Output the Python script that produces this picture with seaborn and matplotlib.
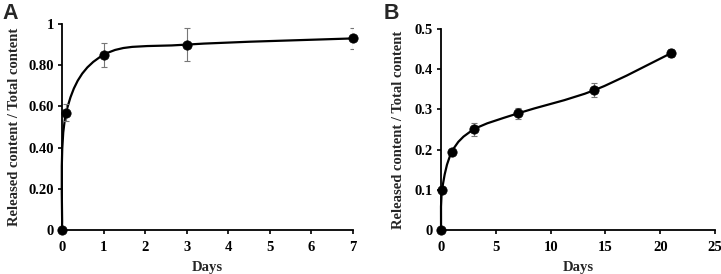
import numpy as np
import pandas as pd
import matplotlib
matplotlib.use("Agg")
import matplotlib.pyplot as plt
import seaborn as sns
from matplotlib.path import Path
from matplotlib.patches import PathPatch

# ---- data ----
days_a = [0, 0.1, 1, 3, 7]
release_a = [0, 0.57, 0.85, 0.90, 0.93]
err_a = [0, 0.04, 0.06, 0.08, 0.05]

days_b = [0, 0.1, 1, 3, 7, 14, 21]
release_b = [0, 0.10, 0.195, 0.25, 0.29, 0.348, 0.44]
err_b = [0, 0.008, 0.006, 0.015, 0.013, 0.017, 0.009]

yticks_a = [0, 0.2, 0.4, 0.6, 0.8, 1.0]
yticklabels_a = ["0", "0.20", "0.40", "0.60", "0.80", "1"]
xticks_a = [0, 1, 2, 3, 4, 5, 6, 7]
yticks_b = [0, 0.1, 0.2, 0.3, 0.4, 0.5]
yticklabels_b = ["0", "0.1", "0.2", "0.3", "0.4", "0.5"]
xticks_b = [0, 5, 10, 15, 20, 25]

sns.set_theme(style="ticks")
plt.rcParams['font.family'] = ['Liberation Serif', 'DejaVu Serif']
plt.rcParams['font.weight'] = 'bold'

fig = plt.figure(figsize=(7.21, 2.74), dpi=100)
ax_a = fig.add_axes([0.086, 0.1606, 0.4036, 0.7518])
ax_b = fig.add_axes([0.6117, 0.1606, 0.3800, 0.7336])


def smooth_path(xs, ys):
    # Excel-style smoothed line as cubic Bezier segments
    pts = np.column_stack([xs, ys]).astype(float)
    n = len(pts)
    verts = [pts[0]]
    codes = [Path.MOVETO]
    for i in range(n - 1):
        p0 = pts[i - 1] if i > 0 else pts[i]
        p1 = pts[i]
        p2 = pts[i + 1]
        p3 = pts[i + 2] if i + 2 < n else pts[i + 1]
        c1 = p1 + (p2 - p0) / 6.0
        c2 = p2 - (p3 - p1) / 6.0
        verts += [c1, c2, p2]
        codes += [Path.CURVE4] * 3
    return Path(verts, codes)


def draw(ax, x, y, e, xlim, ylim, xticks, yticks, yticklabels, ylpad):
    df = pd.DataFrame({"Days": x, "val": y})
    ax.add_patch(PathPatch(smooth_path(x, y), facecolor="none",
                           edgecolor="black", lw=1.6, zorder=2, clip_on=False))
    ax.errorbar(x, y, yerr=e, fmt="none", ecolor="#777777", elinewidth=0.8,
                capsize=2.5, capthick=0.8, zorder=3)
    sns.scatterplot(data=df, x="Days", y="val", ax=ax, color="black",
                    s=45, edgecolor="black", zorder=4, clip_on=False)
    ax.set_xlim(*xlim)
    ax.set_ylim(*ylim)
    ax.set_xticks(xticks)
    ax.set_xticklabels([str(t) for t in xticks])
    ax.set_yticks(yticks)
    ax.set_yticklabels(yticklabels)
    for s in ["top", "right"]:
        ax.spines[s].set_visible(False)
    for s in ["left", "bottom"]:
        ax.spines[s].set_linewidth(1.3)
        ax.spines[s].set_color("black")
    ax.tick_params(axis="both", direction="out", length=3, width=1.2,
                   labelsize=10.5, pad=3, colors="black")
    ax.tick_params(axis="x", pad=5)
    for lab in ax.get_xticklabels() + ax.get_yticklabels():
        lab.set_fontweight("bold")
    ax.set_xlabel("Days", fontsize=10.5, fontweight="bold", labelpad=5)
    ax.set_ylabel("Released content / Total content", fontsize=10.5,
                  fontweight="bold", labelpad=ylpad)


draw(ax_a, days_a, release_a, err_a, (0, 7), (0, 1), xticks_a, yticks_a, yticklabels_a, 5)
draw(ax_b, days_b, release_b, err_b, (0, 25), (0, 0.5), xticks_b, yticks_b, yticklabels_b, 7)

fig.text(0.004, 0.99, "A", fontsize=15.5, fontweight="bold", va="top",
         family=["Liberation Sans", "DejaVu Sans"])
fig.text(0.532, 0.99, "B", fontsize=15.5, fontweight="bold", va="top",
         family=["Liberation Sans", "DejaVu Sans"])

fig.savefig("out.png", dpi=100)
